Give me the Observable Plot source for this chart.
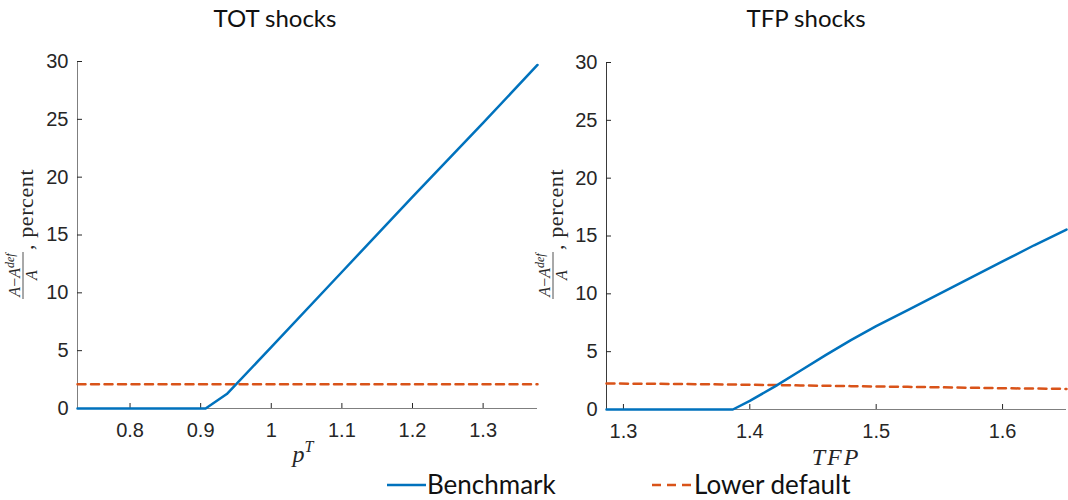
<!DOCTYPE html>
<html>
<head>
<meta charset="utf-8">
<script src="https://cdn.jsdelivr.net/npm/d3@7"></script>
<script src="https://cdn.jsdelivr.net/npm/@observablehq/plot@0.6"></script>
<style>
  html, body { margin: 0; padding: 0; background: #fff; }
  #wrap { position: relative; width: 1068px; height: 500px; overflow: hidden; }
  #wrap > * { position: absolute; }
</style>
</head>
<body>
<div id="wrap"></div>
<script>
// ---- data ----
const panelTitles = ["TOT shocks", "TFP shocks"];
const seriesNames = ["Benchmark", "Lower default"];
const yTicks = [0, 5, 10, 15, 20, 25, 30];

const totX = [0.7256, 0.8, 0.907, 0.937, 1.0, 1.1, 1.2, 1.3, 1.377];
const totBenchmark = [0, 0, 0, 1.25, 5.3, 11.8, 18.3, 24.7, 29.7];
const totLower = [2.1, 2.1, 2.1, 2.1, 2.1, 2.1, 2.1, 2.1, 2.1];
const totTicks = [0.8, 0.9, 1, 1.1, 1.2, 1.3];

const tfpX = [1.2866, 1.35, 1.3866, 1.40, 1.42, 1.44, 1.46, 1.48, 1.50, 1.525, 1.55, 1.575, 1.60, 1.625, 1.6506];
const tfpBenchmark = [0, 0, 0, 0.74, 2.0, 3.35, 4.7, 6.0, 7.2, 8.6, 10.0, 11.4, 12.8, 14.2, 15.55];
const tfpLower = [2.25, 2.2, 2.16, 2.14, 2.11, 2.08, 2.05, 2.02, 1.99, 1.96, 1.92, 1.88, 1.84, 1.81, 1.78];
const tfpTicks = [1.3, 1.4, 1.5, 1.6];

const blue = "#0072BD", orange = "#D95319", ink = "#262626";
const tickFont = "'Liberation Sans', Arial, sans-serif";
const mathFont = "'Liberation Serif', 'DejaVu Serif', serif";
const textFont = "Lato, 'Open Sans', sans-serif";

const wrap = document.getElementById("wrap");
const NS = "http://www.w3.org/2000/svg";

function panel(xs, bench, lower, xTicks, opts) {
  const rows = xs.map((x, i) => ({x, b: bench[i], l: lower[i]}));
  const svg = Plot.plot({
    width: opts.width, height: 432,
    marginLeft: opts.ml, marginRight: opts.mr, marginTop: opts.mt, marginBottom: opts.mb,
    style: {fontFamily: tickFont, fontSize: "20px", color: ink, background: "transparent", overflow: "visible"},
    x: {domain: [xs[0], xs[xs.length - 1]]},
    y: {domain: [0, 30]},
    marks: [
      Plot.ruleY([0], {stroke: "#7f7f7f", strokeWidth: 1}),
      Plot.ruleX([xs[0]], {stroke: opts.axisColor, strokeWidth: 1}),
      Plot.axisY({ticks: yTicks, tickSize: -5, tickPadding: 14, label: null, stroke: ink, fill: ink}),
      Plot.axisX({ticks: xTicks, tickSize: -5, tickPadding: 19, label: null, stroke: ink, fill: ink, tickFormat: d => String(d)}),
      Plot.line(rows, {x: "x", y: "l", stroke: orange, strokeWidth: 2.5, strokeDasharray: "8,5.5"}),
      Plot.line(rows, {x: "x", y: "b", stroke: blue, strokeWidth: 2.5})
    ]
  });
  svg.style.left = opts.left + "px";
  svg.style.top = "40px";
  wrap.appendChild(svg);
  return svg;
}

const left = panel(totX, totBenchmark, totLower, totTicks,
  {width: 540, ml: 77, mr: 3, mt: 21, mb: 64, left: 0, axisColor: "#7f7f7f"});
const right = panel(tfpX, tfpBenchmark, tfpLower, tfpTicks,
  {width: 528, ml: 66, mr: 2, mt: 22, mb: 63, left: 540, axisColor: "#3a3a3a"});

// y-axis labels (rotated fraction)
function yLabel(svg, cx) {
  const g = d3.select(svg).append("g")
    .attr("transform", `translate(${cx},190) rotate(-90)`)
    .attr("font-family", mathFont).attr("fill", ink).attr("text-anchor", "start");
  const num = g.append("text").attr("x", -45).attr("y", -3).attr("text-anchor", "middle")
    .attr("font-size", 16);
  num.append("tspan").attr("font-style", "italic").text("A");
  num.append("tspan").text("\u2212");
  num.append("tspan").attr("font-style", "italic").text("A");
  num.append("tspan").attr("font-style", "italic").attr("font-size", 12).attr("dy", -6).text("def");
  g.append("line").attr("x1", -69).attr("x2", -22).attr("y1", 0).attr("y2", 0)
    .attr("stroke", ink).attr("stroke-width", 0.8);
  g.append("text").attr("x", -45).attr("y", 14).attr("text-anchor", "middle")
    .attr("font-size", 16).attr("font-style", "italic").text("A");
  g.append("text").attr("x", -20).attr("y", 10).attr("text-anchor", "start")
    .attr("font-size", 22).attr("letter-spacing", 0.6).text(", percent");
}
yLabel(left, 23);
yLabel(right, 553 - 540);

// x-axis labels
{
  const t = d3.select(left).append("text").attr("x", 303).attr("y", 422)
    .attr("text-anchor", "middle").attr("font-family", mathFont).attr("fill", ink).attr("font-size", 24);
  t.append("tspan").attr("font-style", "italic").text("p");
  t.append("tspan").attr("font-style", "italic").attr("font-size", 16).attr("dy", -10).text("T");
  d3.select(right).append("text").attr("x", 296).attr("y", 425)
    .attr("text-anchor", "middle").attr("font-family", mathFont).attr("fill", ink)
    .attr("font-size", 24).attr("font-style", "italic").attr("letter-spacing", 2).text("TFP");
}

// titles (above)
const head = document.createElementNS(NS, "svg");
head.setAttribute("width", 1068); head.setAttribute("height", 40);
head.style.left = "0px"; head.style.top = "0px";
wrap.appendChild(head);
d3.select(head).selectAll("text").data(panelTitles).join("text")
  .attr("x", (d, i) => [275, 806][i]).attr("y", 27).attr("text-anchor", "middle")
  .attr("font-family", textFont).attr("font-size", 24).attr("fill", "#111").text(d => d);

// legend (below)
const foot = document.createElementNS(NS, "svg");
foot.setAttribute("width", 1068); foot.setAttribute("height", 32);
foot.style.left = "0px"; foot.style.top = "468px";
wrap.appendChild(foot);
const lg = d3.select(foot);
const legendItems = [
  {name: seriesNames[0], color: blue, dash: null, x0: 387, x1: 426, tx: 427},
  {name: seriesNames[1], color: orange, dash: "9,6", x0: 652, x1: 691, tx: 694}
];
legendItems.forEach(it => {
  lg.append("line").attr("x1", it.x0).attr("x2", it.x1).attr("y1", 17).attr("y2", 17)
    .attr("stroke", it.color).attr("stroke-width", 2.5).attr("stroke-dasharray", it.dash);
  lg.append("text").attr("x", it.tx).attr("y", 26).attr("font-family", textFont)
    .attr("font-size", 26).attr("fill", "#111").text(it.name);
});
</script>
</body>
</html>
